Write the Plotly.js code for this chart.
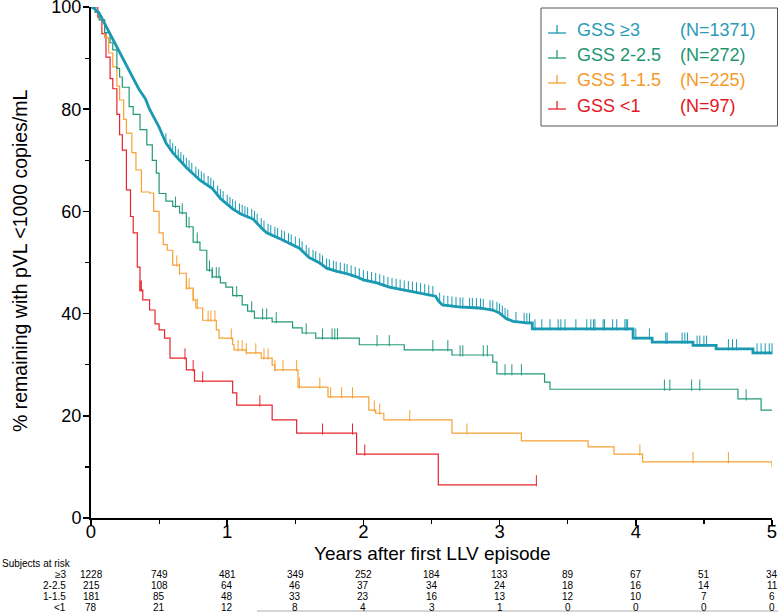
<!DOCTYPE html>
<html><head><meta charset="utf-8">
<script src="https://cdn.plot.ly/plotly-3.0.1.min.js"></script>
<style>html,body{margin:0;padding:0;background:#fff}#chart{width:778px;height:612px}</style>
</head><body><div id="chart"></div><script>
// ---------- data ----------
const groupNames = ["GSS \u22653", "GSS 2-2.5", "GSS 1-1.5", "GSS <1"];
const groupN = ["(N=1371)", "(N=272)", "(N=225)", "(N=97)"];
const riskLabels = ["\u22653", "2-2.5", "1-1.5", "<1"];
const riskTimes = [0, 0.5, 1, 1.5, 2, 2.5, 3, 3.5, 4, 4.5, 5];
const riskGe3 = [1228, 749, 481, 349, 252, 184, 133, 89, 67, 51, 34];
const risk2 = [215, 108, 64, 46, 37, 34, 24, 18, 16, 14, 11];
const risk1 = [181, 85, 48, 33, 23, 16, 13, 12, 10, 7, 6];
const riskLt1 = [78, 21, 12, 8, 4, 3, 1, 0, 0, 0, 0];

// GSS >=3 (very many tiny steps, read as a polyline; explicit steps where visible)
const ge3T = [0,0.03,0.06,0.1,0.136,0.16,0.2,0.25,0.3,0.35,0.4,0.43,0.5,0.55,0.6,0.65,0.7,0.8,0.89,0.95,1.04,1.1,1.19,1.25,1.29,1.4,1.53,1.6,1.68,1.73,1.8,1.88,1.95,2.0,2.1,2.19,2.3,2.4,2.49,2.53,2.55,2.58,2.7,2.85,2.95,2.98,3.0,3.05,3.1,3.2,3.24,3.24,3.98,3.98,4.12,4.12,4.42,4.42,4.59,4.59,4.86,4.86,5.0];
const ge3S = [100,99.6,98.8,96.8,95,93.5,91.5,89,86.5,84,82,80,76.5,73.4,71.5,70,68.6,66.1,64.5,62.5,60.5,59.5,58.5,56.8,55.8,54.5,52.8,51,49.9,48.9,48.3,47.8,47.2,46.6,46,45.2,44.6,44.2,43.6,43.4,42.5,41.7,41.3,41.1,40.7,40.4,40.1,39,38.5,38.2,38.2,37.0,37.0,35.2,35.2,34.4,34.4,33.8,33.8,33.1,33.1,32.3,32.3];
const ge3Cens = [0.55,0.58,0.6,0.62,0.64,0.66,0.68,0.7,0.72,0.74,0.77,0.79,0.81,0.83,0.86,0.88,0.9,0.93,0.95,0.97,1.0,1.02,1.04,1.06,1.09,1.11,1.13,1.15,1.18,1.2,1.22,1.25,1.27,1.3,1.32,1.35,1.37,1.4,1.42,1.45,1.47,1.5,1.53,1.55,1.58,1.6,1.63,1.65,1.68,1.7,1.73,1.75,1.78,1.8,1.83,1.86,1.88,1.91,1.94,1.97,2.0,2.03,2.06,2.09,2.12,2.15,2.18,2.21,2.24,2.27,2.3,2.33,2.36,2.39,2.42,2.45,2.48,2.51,2.56,2.59,2.62,2.65,2.68,2.71,2.73,2.78,2.8,2.83,2.86,2.88,2.93,2.95,2.98,3.0,3.02,3.04,3.06,3.12,3.18,3.2,3.22,3.26,3.31,3.37,3.43,3.45,3.48,3.56,3.64,3.67,3.69,3.7,3.76,3.77,3.83,3.86,3.92,3.93,3.94,4.0,4.1,4.22,4.23,4.34,4.36,4.38,4.45,4.47,4.5,4.52,4.68,4.71,4.74,4.89,4.92,4.95,4.98,5.0];

const g2T = [0,0.03,0.06,0.1,0.14,0.16,0.19,0.21,0.23,0.28,0.31,0.36,0.41,0.45,0.48,0.5,0.55,0.6,0.65,0.7,0.75,0.8,0.85,0.89,0.95,0.99,1.04,1.11,1.15,1.2,1.33,1.48,1.55,1.65,1.97,2.3,2.65,2.95,2.98,3.33,3.37,4.75,4.92,5.0];
const g2S = [100,99,97.5,95,93,91.6,88,86.3,84.3,80.5,79,76,73,70,67.5,63.5,62,61,59.7,57,54,52.4,48.5,47.2,46,45.2,43.5,41.7,40.5,39.1,38.4,37.2,36.2,35.2,33.9,32.9,31.9,30.5,28.2,26.6,25.2,23.3,21.1,21.1];
const g2Cens = [0.62,0.67,0.72,0.78,0.87,0.89,0.92,0.94,1.07,1.18,1.26,1.29,1.36,1.58,1.70,1.77,1.79,1.81,2.1,2.19,2.51,2.62,2.71,2.73,2.88,2.91,3.04,3.09,3.16,4.21,4.25,4.41,4.47,4.81];

const g1T = [0,0.03,0.06,0.1,0.13,0.16,0.19,0.21,0.24,0.26,0.3,0.33,0.37,0.43,0.46,0.5,0.53,0.56,0.6,0.65,0.7,0.75,0.77,0.82,0.92,0.94,1.04,1.05,1.14,1.25,1.33,1.35,1.52,1.74,2.04,2.09,2.15,2.65,3.16,3.65,3.84,4.05,5.0];
const g1S = [100,99,97.5,94,91,88.3,84.5,81.8,78,75.3,71.5,68.1,63.8,63.6,60,55.8,53.5,52.4,49.5,47.9,45,42.7,41.1,38.7,36.8,35.2,33.9,32.9,32.3,31.3,29.9,29.0,25.6,23.7,21.1,20.5,19.2,16.6,15.1,13.9,12.5,11.0,10.0];
const g1Cens = [0.63,0.65,0.70,0.72,0.75,0.78,0.86,0.88,0.91,1.03,1.08,1.11,1.14,1.21,1.27,1.30,1.35,1.41,1.51,1.53,1.68,1.76,1.84,1.92,2.08,2.12,2.34,2.76,4.03,4.42,4.68];

const g0T = [0,0.05,0.08,0.11,0.14,0.16,0.19,0.21,0.23,0.26,0.29,0.31,0.34,0.36,0.38,0.43,0.47,0.5,0.54,0.58,0.70,0.76,1.04,1.07,1.33,1.51,1.95,2.55,3.27];
const g0S = [100,98,94.8,90.2,86,84,79,75,72,64.2,59,55.8,49.1,44.6,42.7,40.7,38,36.8,35.2,31.3,29.0,26.8,24.5,22.1,19.2,16.6,12.5,6.5,6.5];
const g0Cens = [0.36,0.37,0.69,0.75,0.82,1.24,1.70,1.92,2.01,3.27];

// ---------- styles ----------
const colors = ["#1a9ab2", "#23997a", "#f5a134", "#e5262d"];
const textColors = ["#2a9bb6", "#1c9670", "#f39a2a", "#e3161e"];
const widths = [2.8, 1.2, 1.2, 1.2];
const shapesLine = ['linear', 'hv', 'hv', 'hv'];

const curves = [[ge3T, ge3S, ge3Cens], [g2T, g2S, g2Cens], [g1T, g1S, g1Cens], [g0T, g0S, g0Cens]];

function valueAt(ts, ss, t, shape) {
  if (shape === 'hv') {
    let v = ss[0];
    for (let i = 0; i < ts.length; i++) { if (ts[i] <= t) v = ss[i]; }
    return v;
  }
  for (let i = 0; i < ts.length - 1; i++) {
    if (ts[i] <= t && t <= ts[i + 1] && ts[i + 1] > ts[i]) {
      return ss[i] + (ss[i + 1] - ss[i]) * (t - ts[i]) / (ts[i + 1] - ts[i]);
    }
  }
  return ss[ss.length - 1];
}

const tickOffset = 0.8;
const traces = [];
for (let k = 3; k >= 0; k--) {
  const [ts, ss, cs] = curves[k];
  traces.push({x: ts, y: ss, type: 'scatter', mode: 'lines', line: {shape: shapesLine[k], color: colors[k], width: widths[k]}, hoverinfo: 'skip', showlegend: false});
  traces.push({x: cs, y: cs.map(t => valueAt(ts, ss, t, shapesLine[k]) + tickOffset), type: 'scatter', mode: 'markers', cliponaxis: false,
    marker: {symbol: 'line-ns-open', size: 8, color: colors[k], line: {color: colors[k], width: 1}}, hoverinfo: 'skip', showlegend: false});
}

// pixel helpers (layout only)
const L = 91, R = 6, T = 7, B = 94, W = 778, H = 612;
const pw = W - L - R, ph = H - T - B;
const px = v => (v - L) / pw;
const py = v => (H - B - v) / ph;
const FONT = 'Liberation Sans, Arial';

const annotations = [];
const shapes = [];
annotations.push({xref: 'paper', yref: 'paper', x: px(20), y: py(261), text: '% remaining with pVL <1000 copies/mL', textangle: -90, showarrow: false, font: {family: FONT, size: 19.5, color: '#000'}, xanchor: 'center', yanchor: 'middle'});
annotations.push({xref: 'paper', yref: 'paper', x: px(432), y: py(553), text: 'Years after first LLV episode', showarrow: false, font: {family: FONT, size: 19, color: '#000'}, xanchor: 'center', yanchor: 'middle'});
annotations.push({xref: 'paper', yref: 'paper', x: px(0), y: py(563), text: 'Subjects at risk', showarrow: false, font: {family: FONT, size: 10, color: '#000'}, xanchor: 'left', yanchor: 'middle'});

const riskRows = [riskGe3, risk2, risk1, riskLt1];
const rowY = [574, 585, 596, 607];
riskRows.forEach((row, r) => {
  annotations.push({xref: 'paper', yref: 'paper', x: px(68), y: py(rowY[r]), text: riskLabels[r], showarrow: false, font: {family: FONT, size: 10, color: '#000'}, xanchor: 'right', yanchor: 'middle'});
  row.forEach((n, i) => {
    annotations.push({xref: 'x', yref: 'paper', x: riskTimes[i], y: py(rowY[r]), text: String(n), showarrow: false, font: {family: FONT, size: 10, color: '#000'}, xanchor: 'center', yanchor: 'middle'});
  });
});
shapes.push({type: 'line', xref: 'paper', yref: 'paper', x0: px(257), x1: px(778), y0: py(611), y1: py(611), line: {color: '#aaaaaa', width: 1}});

// legend box
shapes.push({type: 'rect', xref: 'paper', yref: 'paper', x0: px(541), x1: px(777.5), y0: py(8), y1: py(126), line: {color: '#555555', width: 1}, fillcolor: 'rgba(0,0,0,0)'});
const legY = [30, 55, 80, 106];
for (let k = 0; k < 4; k++) {
  const yy = legY[k];
  shapes.push({type: 'line', xref: 'paper', yref: 'paper', x0: px(548), x1: px(566), y0: py(yy + 3), y1: py(yy + 3), line: {color: colors[k], width: 1.3}});
  shapes.push({type: 'line', xref: 'paper', yref: 'paper', x0: px(557), x1: px(557), y0: py(yy + 3), y1: py(yy - 5), line: {color: colors[k], width: 1.3}});
  annotations.push({xref: 'paper', yref: 'paper', x: px(575), y: py(yy), text: groupNames[k], showarrow: false, font: {family: FONT, size: 18, color: textColors[k]}, xanchor: 'left', yanchor: 'middle'});
  annotations.push({xref: 'paper', yref: 'paper', x: px(678), y: py(yy), text: groupN[k], showarrow: false, font: {family: FONT, size: 18, color: textColors[k]}, xanchor: 'left', yanchor: 'middle'});
}

const layout = {
  width: W, height: H,
  margin: {l: L, r: R, t: T, b: B, pad: 0},
  paper_bgcolor: '#fff', plot_bgcolor: '#fff',
  showlegend: false,
  font: {family: FONT, color: '#000'},
  xaxis: {range: [0, 5], showgrid: false, zeroline: false, showline: true, linecolor: '#000', linewidth: 2,
    ticks: 'outside', ticklen: 6, tickwidth: 1.5, tickcolor: '#000', dtick: 1, tick0: 0,
    ticklabelstandoff: -10, ticklabeloverflow: 'allow',
    tickfont: {size: 18.5, family: FONT, color: '#000'},
    minor: {dtick: 0.5, ticks: 'outside', ticklen: 4, tickwidth: 1.2, tickcolor: '#000', showgrid: false}},
  yaxis: {range: [0, 100], showgrid: false, zeroline: false, showline: true, linecolor: '#000', linewidth: 2,
    ticks: 'outside', ticklen: 6, tickwidth: 1.5, tickcolor: '#000', dtick: 20, tick0: 0,
    ticklabelstandoff: -2, ticklabeloverflow: 'allow',
    tickfont: {size: 18, family: FONT, color: '#000'},
    minor: {dtick: 10, ticks: 'outside', ticklen: 4, tickwidth: 1.2, tickcolor: '#000', showgrid: false}},
  annotations: annotations,
  shapes: shapes
};

Plotly.newPlot('chart', traces, layout, {displayModeBar: false, staticPlot: true});
</script></body></html>
